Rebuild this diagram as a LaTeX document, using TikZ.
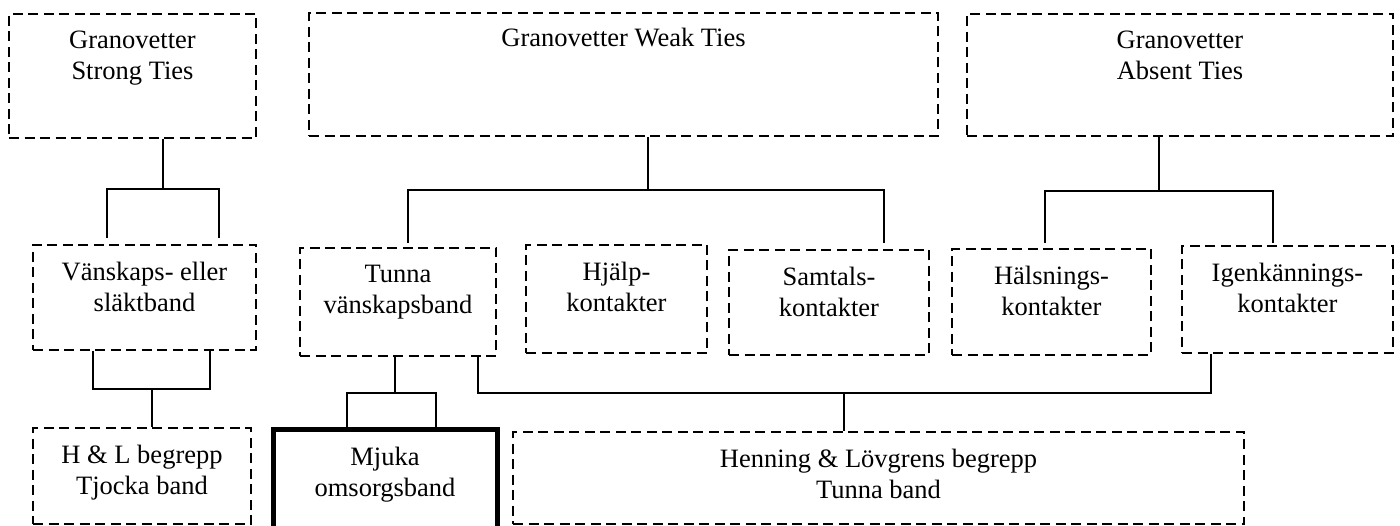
\documentclass[tikz,border=0pt]{standalone}
\usepackage{fontspec}
\setmainfont{Liberation Serif}
\begin{document}
\begin{tikzpicture}[x=1pt,y=-1pt,
  box/.style={draw, dash pattern=on 10pt off 5.5pt, line width=2.9pt, inner sep=0pt},
  boldbox/.style={draw, line width=5pt, inner sep=0pt},
  txt/.style={anchor=north, inner sep=0pt, align=center, yshift=-18.5pt,
    font=\fontsize{26.5pt}{30.5pt}\selectfont},
  stem/.style={line width=2.8pt},
  branch/.style={line width=2pt}]
\useasboundingbox (0,0) rectangle (1400,526);
\clip (0,0) rectangle (1400,526);

% top row: Granovetter categories
\node[box, minimum width=247pt, minimum height=124pt] (strong) at (132.5,76) {};
\node[box, minimum width=629pt, minimum height=123pt] (weak)   at (623.5,74.5) {};
\node[box, minimum width=426pt, minimum height=122pt] (absent) at (1180,75) {};

% middle row: kinds of contacts
\node[box, minimum width=223pt, minimum height=105pt] (vansk)   at (144.5,297.5) {};
\node[box, minimum width=196pt, minimum height=108pt] (tunna)   at (398,302) {};
\node[box, minimum width=181pt, minimum height=108pt] (hjalp)   at (616.5,299) {};
\node[box, minimum width=200pt, minimum height=105pt] (samtals) at (829,302.5) {};
\node[box, minimum width=199pt, minimum height=106pt] (halsn)   at (1051.5,302) {};
\node[box, minimum width=211pt, minimum height=107pt] (igenk)   at (1287.5,299.5) {};

% bottom row: H & L concepts
\node[box, minimum width=218pt, minimum height=96pt] (hl)      at (142,476) {};
\node[boldbox, minimum width=224pt, minimum height=120pt] (mjuka) at (385,489) {};
\node[box, minimum width=731pt, minimum height=92pt] (henning) at (878.5,478) {};

% labels
\node[txt] (strong-t)  at (strong.north)  {Granovetter\\Strong Ties};
\node[txt, yshift=2pt] (weak-t) at (weak.north) {Granovetter Weak Ties};
\node[txt] (absent-t)  at (absent.north)  {Granovetter\\Absent Ties};
\node[txt] (vansk-t)   at (vansk.north)   {Vänskaps- eller\\släktband};
\node[txt] (tunna-t)   at (tunna.north)   {Tunna\\vänskapsband};
\node[txt] (hjalp-t)   at (hjalp.north)   {Hjälp-\\kontakter};
\node[txt] (samtals-t) at (samtals.north) {Samtals-\\kontakter};
\node[txt] (halsn-t)   at (halsn.north)   {Hälsnings-\\kontakter};
\node[txt] (igenk-t)   at (igenk.north)   {Igenkännings-\\kontakter};
\node[txt] (hl-t)      at (hl.north)      {H \& L begrepp\\Tjocka band};
\node[txt, yshift=-2pt] (mjuka-t) at (mjuka.north) {Mjuka\\omsorgsband};
\node[txt] (henning-t) at (henning.north) {Henning \& Lövgrens begrepp\\Tunna band};

% junctions and free branch ends
\coordinate (sJ) at (163,189);
\coordinate (sL) at (107,238);  \coordinate (sR) at (219,238);
\coordinate (wJ) at (648,190);
\coordinate (wL) at (408,243);  \coordinate (wR) at (884,243);
\coordinate (aJ) at (1159,191);
\coordinate (aL) at (1045,243); \coordinate (aR) at (1273,243);
\coordinate (vL) at (93,389);   \coordinate (vR) at (210,389);
\coordinate (vJ) at (152,389);
\coordinate (tJ) at (395,393);
\coordinate (tL) at (347,393);  \coordinate (tR) at (436,393);
\coordinate (lJ) at (478,393);  \coordinate (rJ) at (1211,393);
\coordinate (hJ) at (844,393);

% Strong ties tree
\draw[stem] (strong.south -| sJ) -- (sJ);
\draw[branch] (sL) |- (sJ) -| (sR);
% Weak ties tree
\draw[stem] (weak.south -| wJ) -- (wJ);
\draw[branch] (wL) |- (wJ) -| (wR);
% Absent ties tree
\draw[stem] (absent.south -| aJ) -- (aJ);
\draw[branch] (aL) |- (aJ) -| (aR);
% friendship / kin ties to thick ties
\draw[branch] (vansk.south -| vL) -- (vL) -- (vR) -- (vansk.south -| vR);
\draw[stem] (vJ) -- (hl.north -| vJ);
% thin friendship ties to soft care ties
\draw[stem] (tunna.south -| tJ) -- (tJ);
\draw[branch] (mjuka.north -| tL) -- (tL) -- (tR) -- (mjuka.north -| tR);
% thin ties span
\draw[branch] (tunna.south -| lJ) -- (lJ) -- (rJ) -- (igenk.south -| rJ);
\draw[stem] (hJ) -- (henning.north -| hJ);
\end{tikzpicture}
\end{document}
